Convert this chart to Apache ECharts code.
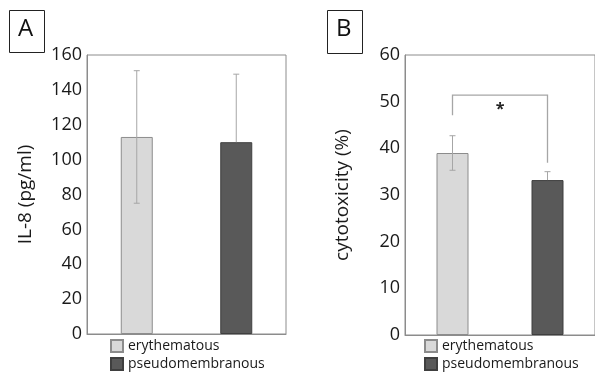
<!DOCTYPE html>
<html><head><meta charset="utf-8">
<script src="https://cdn.jsdelivr.net/npm/echarts@6/dist/echarts.min.js"></script>
<style>html,body{margin:0;padding:0;background:#fff}#c{width:595px;height:374px}</style>
</head><body><div id="c"></div>
<script>
var categories = ['erythematous', 'pseudomembranous'];
var il8Mean = [113, 110];
var il8ErrUp = [38, 39];
var il8ErrDown = [38, 0];
var cytoMean = [39, 33.2];
var cytoErrUp = [3.7, 1.8];
var cytoErrDown = [3.7, 0];
var yTicksA = {min: 0, max: 160, interval: 20};
var yTicksB = {min: 0, max: 60, interval: 10};
var sigBracket = [[51.4, 47.1, 36.9]]; // top, left end, right end (cytotoxicity units)
var sigLabel = '*';

var font = 'Open Sans';
var txt = '#1a1a1a';
var lightFill = '#d9d9d9', lightBorder = '#8c8c8c';
var darkFill = '#595959', darkBorder = '#3f3f3f';
var errColor = '#a6a6a6';

function barSeries(idx, means) {
  return categories.map(function (c, i) {
    return {
      name: c, type: 'bar', xAxisIndex: idx, yAxisIndex: idx,
      barWidth: 32, barGap: '-100%',
      data: means.map(function (v, j) { return j === i ? v : '-'; }),
      itemStyle: {color: i === 0 ? lightFill : darkFill, borderColor: i === 0 ? lightBorder : darkBorder, borderWidth: 1},
      z: 2
    };
  });
}
function errSeries(idx, means, up, down) {
  return {
    type: 'custom', xAxisIndex: idx, yAxisIndex: idx, z: 5, silent: true,
    data: means.map(function (m, i) { return [i, m, m + up[i], m - down[i]]; }),
    renderItem: function (params, api) {
      var mid = api.coord([api.value(0), api.value(1)]);
      var hi = api.coord([api.value(0), api.value(2)]);
      var lo = api.coord([api.value(0), api.value(3)]);
      var w = 3;
      var st = {stroke: errColor, lineWidth: 1};
      var ch = [
        {type: 'line', shape: {x1: hi[0], y1: hi[1], x2: mid[0], y2: mid[1]}, style: st},
        {type: 'line', shape: {x1: hi[0]-w, y1: hi[1], x2: hi[0]+w, y2: hi[1]}, style: st}
      ];
      if (api.value(3) < api.value(1)) {
        ch.push({type: 'line', shape: {x1: mid[0], y1: mid[1], x2: lo[0], y2: lo[1]}, style: st});
        ch.push({type: 'line', shape: {x1: lo[0]-w, y1: lo[1], x2: lo[0]+w, y2: lo[1]}, style: st});
      }
      return {type: 'group', children: ch};
    }
  };
}
var bracketSeries = {
  type: 'custom', xAxisIndex: 1, yAxisIndex: 1, z: 5, silent: true,
  data: sigBracket,
  renderItem: function (params, api) {
    var t = api.value(0), l = api.value(1), r = api.value(2);
    var a = api.coord([0, t]), b = api.coord([1, t]);
    var la = api.coord([0, l]), rb = api.coord([1, r]);
    var st = {stroke: '#a6a6a6', lineWidth: 1.3, fill: null};
    return {type: 'group', children: [
      {type: 'polyline', shape: {points: [[la[0], la[1]], [a[0], a[1]], [b[0], b[1]], [rb[0], rb[1]]]}, style: st},
      {type: 'text', x: (a[0] + b[0]) / 2, y: a[1] + 14, style: {text: sigLabel, fill: '#222', font: 'bold 16px "' + font + '"', textAlign: 'center', textVerticalAlign: 'middle'}}
    ]};
  }
};

function yAxis(idx, t, name) {
  return {
    type: 'value', gridIndex: idx, min: t.min, max: t.max, interval: t.interval,
    name: name, nameLocation: 'middle', nameGap: idx === 0 ? 52 : 53,
    nameTextStyle: {fontFamily: font, fontSize: 19, color: txt},
    axisLine: {show: true, lineStyle: {color: '#8c8c8c'}},
    axisTick: {show: false}, splitLine: {show: false},
    axisLabel: {fontFamily: font, fontSize: 18, color: txt, margin: 5}
  };
}
function xAxis(idx) {
  return {type: 'category', gridIndex: idx, data: categories,
    axisLine: {show: true, lineStyle: {color: '#8c8c8c'}}, axisTick: {show: false}, axisLabel: {show: false}};
}
function legend(left) {
  return {
    left: left, top: 339, orient: 'vertical', itemWidth: 12, itemHeight: 12, itemGap: 4,
    data: categories, icon: 'rect',
    textStyle: {fontFamily: font, fontSize: 14, color: txt, padding: [0, 0, 0, 0]},
    selectedMode: false, padding: 0
  };
}

var chart = echarts.init(document.getElementById('c'), null, {renderer: 'canvas'});
chart.setOption({
  animation: false,
  backgroundColor: '#fff',
  grid: [
    {left: 87, top: 55, width: 199, height: 279, show: true, borderColor: '#8c8c8c', borderWidth: 1},
    {left: 405, top: 55, width: 198, height: 280, show: true, borderColor: '#8c8c8c', borderWidth: 1}
  ],
  xAxis: [xAxis(0), xAxis(1)],
  yAxis: [yAxis(0, yTicksA, 'IL-8 (pg/ml)'), yAxis(1, yTicksB, 'cytotoxicity (%)')],
  legend: [legend(110), legend(424)],
  series: barSeries(0, il8Mean).concat(barSeries(1, cytoMean)).concat([
    errSeries(0, il8Mean, il8ErrUp, il8ErrDown), errSeries(1, cytoMean, cytoErrUp, cytoErrDown), bracketSeries
  ]),
  graphic: [
    {type: 'rect', left: 9, top: 10, shape: {width: 35, height: 42}, style: {fill: '#fff', stroke: '#222', lineWidth: 1}},
    {type: 'text', left: 18, top: 17, style: {text: 'A', font: '24px "' + font + '"', fill: '#111'}},
    {type: 'rect', left: 327, top: 10, shape: {width: 35, height: 43}, style: {fill: '#fff', stroke: '#222', lineWidth: 1}},
    {type: 'text', left: 336, top: 17, style: {text: 'B', font: '24px "' + font + '"', fill: '#111'}}
  ]
});
</script></body></html>
